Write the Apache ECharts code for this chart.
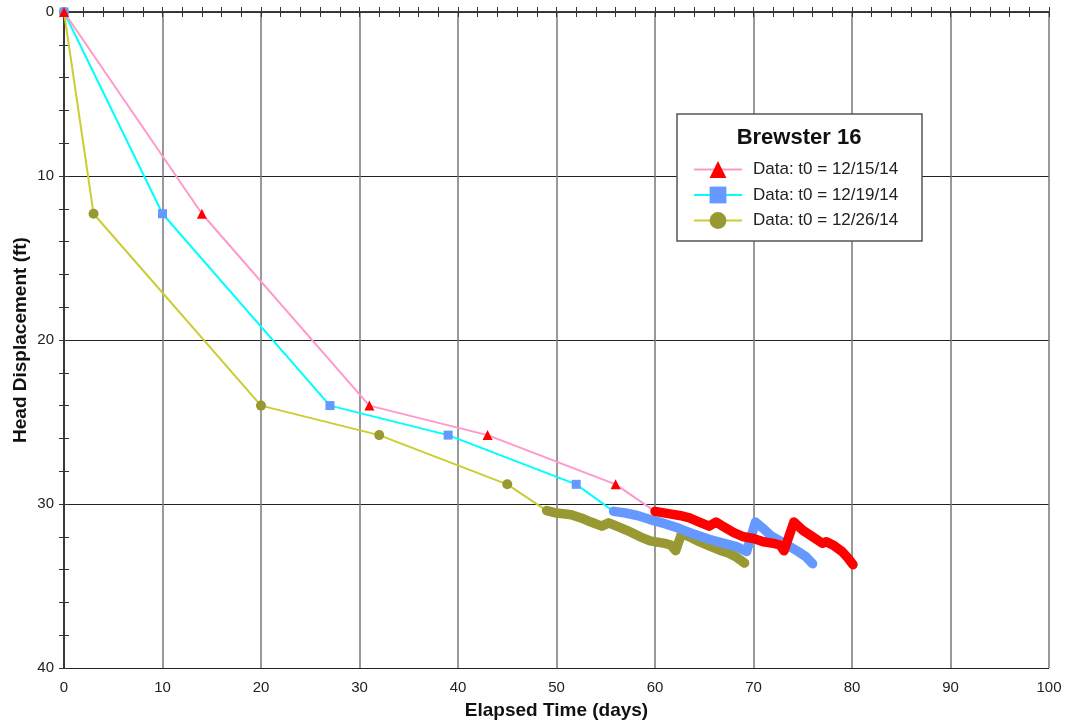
<!DOCTYPE html>
<html>
<head>
<meta charset="utf-8">
<script src="https://cdn.jsdelivr.net/npm/echarts@6/dist/echarts.min.js"></script>
<style>
html,body{margin:0;padding:0;background:#fff;}
#chart{width:1065px;height:725px;}
</style>
</head>
<body>
<div id="chart"></div>
<script>
// ---- data ----
var seriesNames = ['Data: t0 = 12/15/14', 'Data: t0 = 12/19/14', 'Data: t0 = 12/26/14'];
var legendTitle = 'Brewster 16';
var xTicks = [0, 10, 20, 30, 40, 50, 60, 70, 80, 90, 100];
var yTicks = [0, 10, 20, 30, 40];

// sparse (manual) readings, [elapsed days, head displacement ft]
var red1215Sparse = [[0, 0], [14, 12.3], [31, 24.0], [43, 25.8], [56, 28.8], [60, 30.45]];
var blue1219Sparse = [[0, 0], [10, 12.3], [27, 24.0], [39, 25.8], [52, 28.8], [55.8, 30.45]];
var olive1226Sparse = [[0, 0], [3, 12.3], [20, 24.0], [32, 25.8], [45, 28.8], [49, 30.4]];

// dense (transducer) readings
var red1215Dense = [[60, 30.45], [61.5, 30.6], [62.5, 30.7], [63.5, 30.85], [64.5, 31.1], [65.5, 31.35], [66.2, 31.1], [67, 31.4], [68, 31.75], [69, 32.0], [70, 32.1], [71, 32.3], [72, 32.4], [72.7, 32.5], [73.1, 32.85], [74.1, 31.1], [75, 31.6], [76, 32.0], [77, 32.4], [77.4, 32.3], [78.2, 32.55], [79, 32.9], [79.6, 33.3], [80.1, 33.7]];
var blue1219Dense = [[55.8, 30.45], [57, 30.55], [58.2, 30.7], [59.5, 30.95], [61, 31.2], [62.5, 31.5], [64, 31.85], [65.5, 32.15], [67, 32.4], [68.3, 32.6], [69.3, 32.9], [70.2, 31.1], [71, 31.5], [71.8, 31.95], [73, 32.35], [74.4, 32.85], [75.3, 33.2], [76, 33.65]];
var olive1226Dense = [[49, 30.4], [50, 30.55], [51.5, 30.65], [52.5, 30.85], [53.5, 31.1], [54.6, 31.35], [55.3, 31.15], [56.3, 31.4], [57.5, 31.7], [58.5, 32.0], [59.5, 32.25], [61, 32.4], [61.6, 32.5], [62.1, 32.85], [62.7, 31.8], [63.5, 32.0], [64.5, 32.3], [65.5, 32.55], [66.5, 32.8], [67.5, 33.0], [68.3, 33.25], [69.1, 33.6]];

// ---- styles ----
var FONT = '"Liberation Sans", Arial, sans-serif';

function sparseData(arr) {
  return arr.map(function (p, i) {
    return i === arr.length - 1 ? { value: p, symbol: 'none' } : { value: p };
  });
}

function sparseSeries(name, arr, lineColor, markColor, symbol, size, z) {
  return {
    name: name, type: 'line', data: sparseData(arr),
    xAxisIndex: 0, yAxisIndex: 0,
    symbol: symbol, symbolSize: size, showAllSymbol: true,
    lineStyle: { color: lineColor, width: 2 },
    itemStyle: { color: markColor },
    emphasis: { disabled: true }, animation: false, z: z
  };
}
function denseSeries(arr, color, z) {
  return {
    name: '_dense', type: 'line', data: arr, symbol: 'none',
    xAxisIndex: 0, yAxisIndex: 0,
    lineStyle: { color: color, width: 9.5, join: 'round', cap: 'round' },
    emphasis: { disabled: true }, animation: false, z: z
  };
}

var axisLineStyle = { lineStyle: { color: '#333', width: 1.5 } };

function minorAxis(pos, min, max, inverse, showLine) {
  return {
    type: 'value', min: min, max: max, interval: 2, inverse: inverse, position: pos,
    axisLine: showLine ? axisLineStyle : { show: false },
    axisTick: { show: true, inside: true, length: 5, lineStyle: { color: '#333', width: 1 } },
    axisLabel: { show: false }, splitLine: { show: false }
  };
}

var chart = echarts.init(document.getElementById('chart'));
chart.setOption({
  backgroundColor: '#fff',
  animation: false,
  grid: { left: 64, right: 16, top: 12, bottom: 56, containLabel: false },
  xAxis: [{
    type: 'value', min: 0, max: 100, interval: 10, position: 'bottom',
    axisLine: axisLineStyle,
    axisTick: { show: false },
    axisLabel: { color: '#222', fontSize: 15, fontFamily: FONT, margin: 12 },
    splitLine: { show: true, lineStyle: { color: '#777', width: 1.5 } },
    name: 'Elapsed Time (days)', nameLocation: 'middle', nameGap: 33, nameMoveOverlap: false,
    nameTextStyle: { fontSize: 19, fontWeight: 'bold', color: '#111', fontFamily: FONT }
  },
    minorAxis('top', 0, 100, false, true),
    minorAxis('bottom', 0, 100, false, false)
  ],
  yAxis: [{
    type: 'value', min: 0, max: 40, interval: 10, inverse: true, position: 'left',
    axisLine: axisLineStyle,
    axisTick: { show: false },
    axisLabel: { color: '#222', fontSize: 15, fontFamily: FONT, margin: 10 },
    splitLine: { show: true, lineStyle: { color: '#222', width: 1 } },
    name: 'Head Displacement (ft)', nameLocation: 'middle', nameGap: 34, nameRotate: 90, nameMoveOverlap: false,
    nameTextStyle: { fontSize: 19, fontWeight: 'bold', color: '#111', fontFamily: FONT }
  },
    minorAxis('right', 0, 40, true, true),
    minorAxis('left', 0, 40, true, false)
  ],
  legend: {
    data: seriesNames, orient: 'vertical', left: 688, top: 156,
    itemWidth: 48, itemHeight: 21, itemGap: 8.5,
    textStyle: { fontSize: 17, color: '#222', fontFamily: FONT, padding: [0, 0, 0, 6] },
    z: 10, selectedMode: false
  },
  graphic: [
    { type: 'rect', z: 8, shape: { x: 677, y: 114, width: 245, height: 127 },
      style: { fill: '#fff', stroke: '#555', lineWidth: 1.5 } },
    { type: 'text', z: 10, x: 799, y: 138,
      style: { text: legendTitle, font: 'bold 22px ' + FONT, fill: '#111', textAlign: 'center', textVerticalAlign: 'middle' } }
  ],
  series: [
    sparseSeries(seriesNames[2], olive1226Sparse, '#cccc33', '#999933', 'circle', 10, 3),
    sparseSeries(seriesNames[1], blue1219Sparse, '#00ffff', '#6699ff', 'rect', 9, 4),
    sparseSeries(seriesNames[0], red1215Sparse, '#ff99cc', '#ff0000', 'triangle', 10, 5),
    denseSeries(olive1226Dense, '#999933', 3),
    denseSeries(blue1219Dense, '#6699ff', 4),
    denseSeries(red1215Dense, '#ff0000', 5)
  ]
});
</script>
</body>
</html>
